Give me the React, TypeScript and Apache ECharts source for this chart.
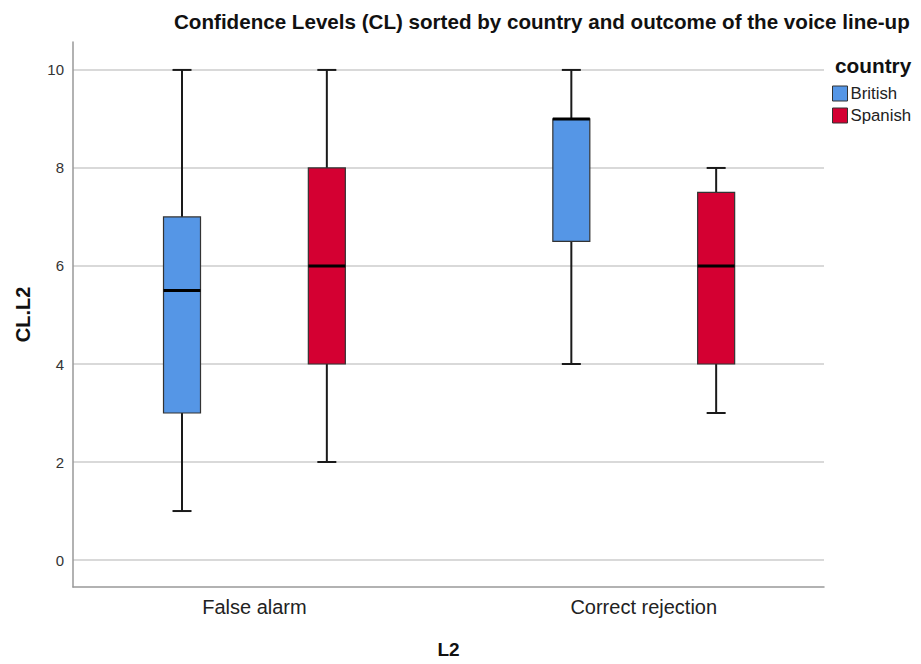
import React, { useEffect, useRef } from "react";
import * as echarts from "echarts";

const categories = ["False alarm", "Correct rejection"];
const countries = ["British", "Spanish"];
// [min, Q1, median, Q3, max] per category
const britishBoxes = [
  [1, 3, 5.5, 7, 10],
  [4, 6.5, 9, 9, 10],
];
const spanishBoxes = [
  [2, 4, 6, 8, 10],
  [3, 4, 6, 7.5, 8],
];
const colors = ["#5596e6", "#d40032"];
const groupOffsets = [-0.186, 0.186]; // in category units

const FONT = "'Liberation Sans', Arial, sans-serif";

function makeSeries(name: string, boxes: number[][], color: string, offset: number) {
  return {
    name,
    type: "custom",
    itemStyle: { color },
    encode: { x: 0, y: [1, 2, 3, 4, 5] },
    data: boxes.map((b, i) => [i, ...b]),
    renderItem: (params: any, api: any) => {
      const cat = api.value(0);
      const mn = api.value(1);
      const q1 = api.value(2);
      const md = api.value(3);
      const q3 = api.value(4);
      const mx = api.value(5);
      const unit = api.size([1, 0])[0];
      const cx = api.coord([cat, 0])[0] + offset * unit;
      const y = (v: number) => api.coord([cat, v])[1];
      const boxW = 37;
      const capW = 19;
      const lineStyle = { stroke: "#1a1a1a", lineWidth: 2 };
      return {
        type: "group",
        children: [
          { type: "line", shape: { x1: cx, y1: y(q3), x2: cx, y2: y(mx) }, style: lineStyle },
          { type: "line", shape: { x1: cx, y1: y(q1), x2: cx, y2: y(mn) }, style: lineStyle },
          { type: "line", shape: { x1: cx - capW / 2, y1: y(mx), x2: cx + capW / 2, y2: y(mx) }, style: lineStyle },
          { type: "line", shape: { x1: cx - capW / 2, y1: y(mn), x2: cx + capW / 2, y2: y(mn) }, style: lineStyle },
          {
            type: "rect",
            shape: { x: cx - boxW / 2, y: y(q3), width: boxW, height: y(q1) - y(q3) },
            style: { fill: color, stroke: "#333333", lineWidth: 1.2 },
          },
          {
            type: "line",
            shape: { x1: cx - boxW / 2, y1: y(md), x2: cx + boxW / 2, y2: y(md) },
            style: { stroke: "#000000", lineWidth: 3 },
          },
        ],
      };
    },
  };
}

export default function App() {
  const ref = useRef<HTMLDivElement>(null);
  useEffect(() => {
    if (!ref.current) return;
    const chart = echarts.init(ref.current, null, { renderer: "svg" });
    chart.setOption({
      animation: false,
      backgroundColor: "#ffffff",
      title: [
        {
          text: "Confidence Levels (CL) sorted by country and outcome of the voice line-up",
          left: 174,
          top: 11,
          padding: 0,
          textStyle: { fontFamily: FONT, fontSize: 20.6, fontWeight: "bold", color: "#111" },
        },
        {
          text: "country",
          left: 835,
          top: 55,
          padding: 0,
          textStyle: { fontFamily: FONT, fontSize: 20.8, fontWeight: "bold", color: "#111" },
        },
      ],
      legend: {
        data: countries,
        orient: "vertical",
        left: 832,
        top: 85,
        padding: 0,
        icon: "rect",
        itemWidth: 15,
        itemHeight: 15,
        itemGap: 5,
        itemStyle: { borderColor: "#333", borderWidth: 1 },
        textStyle: { fontFamily: FONT, fontSize: 16.8, color: "#222", padding: [0, 0, 0, -2] },
      },
      grid: { left: 73, right: 97, top: 42, bottom: 76, containLabel: false },
      xAxis: {
        type: "value",
        min: -0.466,
        max: 1.463,
        splitNumber: 2,
        name: "L2",
        nameLocation: "middle",
        nameGap: 53,
        nameTextStyle: { fontFamily: FONT, fontSize: 19, fontWeight: "bold", color: "#111" },
        axisLine: { show: true, onZero: false, lineStyle: { color: "#999", width: 1.5 } },
        axisTick: { show: false },
        splitLine: { show: false },
        axisLabel: {
          showMinLabel: false,
          showMaxLabel: false,
          margin: 10,
          fontFamily: FONT,
          fontSize: 20,
          color: "#222",
          formatter: (v: number) => {
            const i = Math.round(v);
            return Math.abs(v - i) < 1e-6 && categories[i] ? categories[i] : "";
          },
        },
      },
      yAxis: {
        type: "value",
        min: -0.55,
        max: 10.57,
        splitNumber: 5,
        name: "CL.L2",
        nameLocation: "middle",
        nameGap: 40,
        nameTextStyle: { fontFamily: FONT, fontSize: 20, fontWeight: "bold", color: "#111" },
        axisLine: { show: true, onZero: false, lineStyle: { color: "#999", width: 1.5 } },
        axisTick: { show: false },
        axisLabel: {
          showMinLabel: false,
          showMaxLabel: false,
          margin: 9,
          fontFamily: FONT,
          fontSize: 15,
          color: "#333",
        },
        splitLine: {
          show: true,
          showMinLine: false,
          showMaxLine: false,
          lineStyle: { color: "#cccccc", width: 1.5 },
        },
      },
      series: [
        makeSeries(countries[0], britishBoxes, colors[0], groupOffsets[0]),
        makeSeries(countries[1], spanishBoxes, colors[1], groupOffsets[1]),
      ],
    });
    return () => chart.dispose();
  }, []);
  return <div ref={ref} style={{ width: 921, height: 664, margin: -8 }} />;
}
